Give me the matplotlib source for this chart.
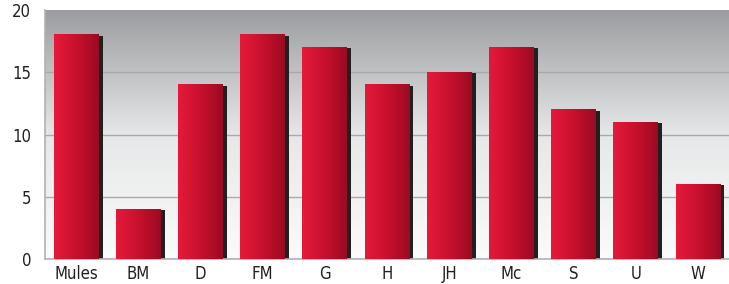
import numpy as np
import matplotlib.pyplot as plt
from matplotlib.colors import LinearSegmentedColormap

categories = ["Mules", "BM", "D", "FM", "G", "H", "JH", "Mc", "S", "U", "W"]
values = [18, 4, 14, 18, 17, 14, 15, 17, 12, 11, 6]
y_ticks = [0, 5, 10, 15, 20]

plt.rcParams["font.family"] = ["DejaVu Sans"]
plt.rcParams["font.stretch"] = "condensed"

fig = plt.figure(figsize=(7.29, 2.84), dpi=100)
ax = fig.add_axes([45 / 729, 1 - 259 / 284, 1 - 45 / 729, 249 / 284])

x = np.arange(len(categories))
width = 0.72

# background gradient, grey at top fading to white
bg_cmap = LinearSegmentedColormap.from_list("bg", ["#fbfbfb", "#e6e7e8", "#9c9da0"])
grad = np.linspace(0, 1, 256).reshape(-1, 1)
ax.imshow(grad, aspect="auto", cmap=bg_cmap, origin="lower",
          extent=[0, 1, 0, 1], transform=ax.transAxes, zorder=0)

for yv in y_ticks[1:-1]:
    ax.axhline(yv, color="#a8a9ab", lw=1, zorder=1)

# shadow behind bars
dx = 0.065
ax.bar(x + dx, np.array(values) - 0.08, width=width, color="#231f20", zorder=2)
bars = ax.bar(x, values, width=width, color="#d01530", zorder=3)

bar_cmap = LinearSegmentedColormap.from_list("bar", ["#e51a3a", "#c8102e", "#9c0a22"])
hgrad = np.linspace(0, 1, 256).reshape(1, -1)
for b in bars:
    x0, y0 = b.get_x(), b.get_y()
    ax.imshow(hgrad, aspect="auto", cmap=bar_cmap,
              extent=[x0, x0 + b.get_width(), y0, y0 + b.get_height()], zorder=4)

ax.set_xlim(-0.5, len(categories) - 0.5)
ax.set_ylim(0, 20)
ax.set_xticks(x)
ax.set_xticklabels(categories)
ax.set_yticks(y_ticks)
ax.tick_params(length=0, labelsize=12, colors="#231f20", pad=4)
ax.tick_params(axis="y", pad=10)

for side in ["top", "right"]:
    ax.spines[side].set_visible(False)
ax.spines["left"].set_color("#b0b1b3")
ax.spines["bottom"].set_color("#b0b1b3")
ax.spines["left"].set_linewidth(1.2)
ax.spines["bottom"].set_linewidth(1.2)

fig.savefig("out.png", dpi=100)
